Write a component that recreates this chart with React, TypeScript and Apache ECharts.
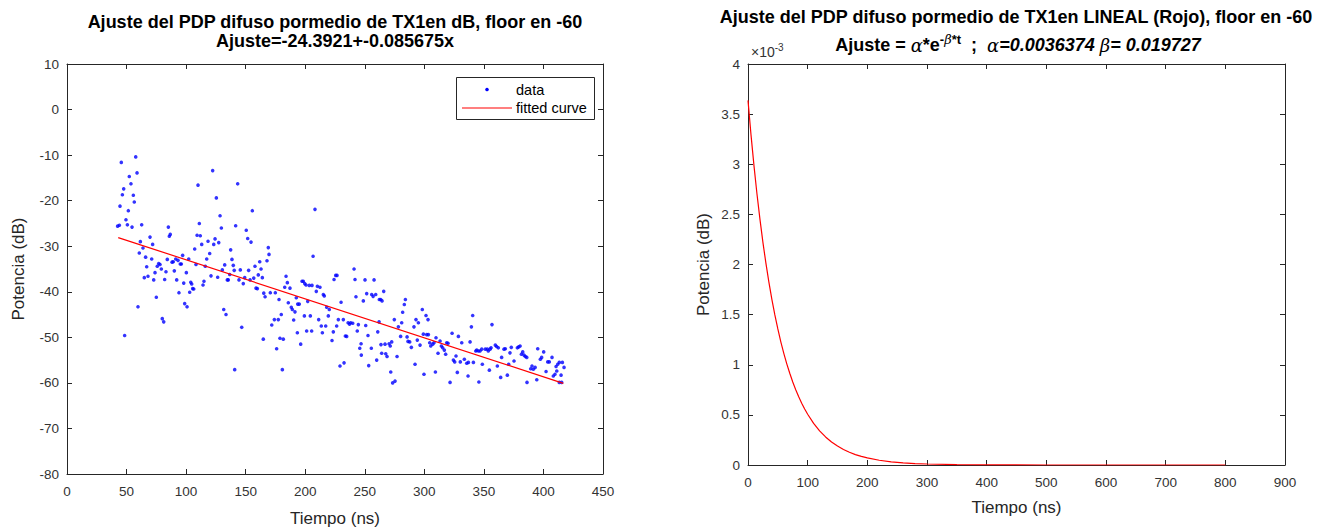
import React, { useEffect, useRef } from "react";
import * as echarts from "echarts";

// ---- Left panel: diffuse PDP samples (ns, dB) ----
const scatterTime = [
  42.5, 44, 44.5, 45.6, 46.5, 47.6, 48.4, 49.5, 50.7, 51.5, 52.3, 53.7, 54.6, 55.7, 56.5, 57.7, 58.8, 59.6,
  60.7, 61.6, 62.7, 63.8, 64.9, 66, 66.9, 68, 69.7, 71.1, 71.9, 72.8, 73.9, 75, 75.8, 77, 78.1, 79.2,
  80, 81.2, 82, 83.1, 84.2, 85.1, 85.9, 86.7, 88.2, 89.2, 90.1, 91.3, 92.1, 93.2, 94, 95.1, 96, 97.1,
  98, 98.8, 100.2, 100.8, 102.2, 103, 103.9, 104.7, 105.5, 106.4, 107.2, 108.3, 109.2, 110, 111.1, 111.9,
  113.1, 114.2, 115, 116.1, 117.3, 118.4, 119.8, 120.9, 122.3, 123.2, 124.3, 125.4, 126.5, 127.4, 128.5,
  129.6, 130.4, 131.6, 132.4, 133.5, 134.6, 135.4, 136.6, 137.4, 138.5, 139.6, 140.4, 140.8, 141.6, 143.3,
  144.4, 145.5, 146.7, 148, 149.2, 150.5, 151.7, 152.5, 153.7, 154.5, 155.6, 156.8, 157.8, 158.7, 159.8,
  160.6, 161.8, 162.9, 164, 164.8, 165.2, 166.3, 167.9, 169, 169.6, 170.7, 171.9, 174.1, 174.9, 176,
  177.4, 178, 178.8, 179.9, 180.8, 181.6, 182.8, 183.9, 185, 185.8, 187.2, 188.3, 189.2, 190.3, 191.4,
  192.5, 193.4, 193.7, 195, 196.2, 197.3, 198.4, 199.3, 199.6, 200.7, 201.2, 202.1, 203.4, 204.3, 205.4,
  205.7, 206.6, 208.2, 209.3, 210.2, 211.3, 212.4, 213.5, 214.4, 215.2, 216, 217.2, 218, 219.4, 220.2,
  222.5, 223.6, 224.2, 225.6, 226.4, 226.7, 227.8, 229.2, 230.1, 232, 232.6, 233.7, 234.8, 236, 237.2,
  238.2, 239.9, 241, 241.8, 242.6, 243.7, 244.6, 245.8, 246.9, 247.1, 248.8, 250.2, 250.8, 251.6, 252.7,
  253.3, 255.5, 255.8, 257, 257.8, 259.2, 260, 260.9, 262, 262.2, 263.4, 263.6, 264.2, 264.5, 265.9,
  267, 267.6, 268.7, 270.4, 271.4, 271.8, 272.6, 273.4, 274.8, 275.4, 277.1, 278.2, 280.1, 281, 281.8,
  283.2, 284.1, 285.5, 286.3, 287.7, 289.1, 291.3, 292.2, 293, 294.1, 295, 296.4, 298.3, 299.2, 299.7,
  301.4, 302, 303.1, 303.4, 304.5, 305.4, 307, 308.1, 309.3, 309.8, 311.5, 313.2, 314.3, 315.4, 316.8,
  317.9, 318.8, 319.9, 321.6, 323.3, 324.4, 325.5, 326.6, 327.7, 328.6, 330.2, 331.4, 333.6, 335.6, 336.7,
  337, 338.4, 339.5, 340.6, 341.2, 343.2, 344, 345.4, 345.8, 346.8, 348.2, 348.7, 351.2, 352.9, 353.7,
  354.6, 355.2, 356, 356.8, 359.6, 360.7, 361.3, 362.1, 364.1, 364.9, 366.9, 368, 369.7, 370.8, 371.9,
  373, 375.3, 378.1, 379.2, 380.4, 381.5, 382.6, 383.7, 384.8, 386, 386.2, 389.3, 390.4, 391.5, 393,
  394.4, 395.2, 397.4, 398.5, 400.2, 402.2, 403.6, 404.9, 407.2, 408.3, 409.7, 410.6, 411.2, 412, 413.3,
  413.3, 414.8, 415.3, 415.9, 417.3,
];
const scatterPower = [
  -25.6, -25.4, -21.2, -11.6, -18.7, -17.4, -49.6, -24.2, -25.3, -22.2, -14.7, -16.3, -25.8, -18.8, -20.3, -10.4, -13.9, -43.3,
  -31.5, -29.0, -25.3, -30.4, -36.9, -32.4, -34.5, -36.6, -28, -32.8, -29.6, -37.4, -35.8, -41.2, -34.4, -33.8, -34.0, -35,
  -45.9, -46.6, -37.3, -35.6, -32.9, -25.8, -27.8, -27.4, -33.5, -33.4, -35.4, -32.8, -37.4, -33.1, -40.2, -33.9, -33.9, -32.0,
  -38.1, -42.6, -35.8, -43.3, -32.8, -40.1, -37.9, -38.3, -39.3, -39.4, -30.6, -34.0, -27.6, -16.6, -25.0, -27.7,
  -29.6, -38.5, -37.7, -34.4, -32.8, -28.9, -31.6, -36.5, -13.4, -29.6, -28.4, -19.4, -36.8, -29.2, -23.3,
  -26, -35.2, -43.9, -34.1, -45.0, -37.4, -37.4, -36.2, -30.8, -32.9, -34.2, -35.3, -57.1, -25.5, -16.3,
  -37.4, -35.2, -47.8, -38.2, -36.9, -26.5, -28.3, -35.3, -37.4, -29.1, -22.2, -37, -34.4, -39.2, -39.3,
  -36.3, -33.4, -35, -36.9, -50.4, -40.3, -41.1, -33.2, -30.3, -31.8, -40.2, -47.3, -46.1, -40.2, -52.5,
  -46.1, -41.7, -50.2, -45, -57.1, -50.4, -39, -36.6, -38, -42.4, -39.2, -43.4, -43.9, -46.2, -44.4,
  -41.3, -49, -42.7, -42.7, -51.5, -37.7, -37.7, -45.3, -38.2, -38.5, -48.6, -42.1, -38.6, -45.3, -48.6,
  -38.6, -32.2, -21.9, -39.9, -38.8, -46.1, -39, -47.5, -49, -40.6, -40.9, -47.5, -43.4, -45.3, -43.9,
  -50.7, -48.8, -37.3, -36.4, -47.5, -36.4, -46.1, -56.3, -42.3, -46.1, -55.6, -49.7, -49.8, -46.8, -47.1,
  -46.8, -46.9, -35, -37.3, -41.1, -48.6, -47.2, -52.4, -51.4, -53.9, -42, -37.4, -47.4, -40.4, -49.6,
  -56.2, -52.4, -40.6, -41, -37.4, -40.6, -55, -48.8, -46.6, -41.7, -41.7, -51.6, -53.5, -42, -39.9,
  -51.5, -53.6, -54.2, -51.4, -51.9, -57.6, -51, -60, -46.1, -59.6, -54.2, -47.7, -49.8, -46.8, -44.5,
  -42.8, -41.7, -49.9, -50.9, -51, -52.2, -47.7, -55.9, -46.1, -50.6, -46.8, -51.7, -43.9, -49.3, -58.1,
  -45.2, -49.4, -46.1, -49.4, -51.2, -51.9, -51.5, -51.2, -57.6, -50.1, -53.5, -50.8, -51.9, -52.3, -52.8,
  -53.7, -51.2, -51.3, -59.9, -49.1, -55, -55.4, -54.1, -57.7, -49.8, -55.4, -51.2, -54.8, -55.7, -58.5,
  -55.5, -51, -47.7, -45.2, -55.5, -53, -52.8, -53, -59.8, -53, -52.6, -55.9, -52.6, -52.6, -53,
  -57.2, -52.6, -52.3, -47.2, -51.7, -52, -56.3, -52.3, -58.8, -54.4, -52.6, -52.5, -58.3, -55.9, -53.4,
  -52.2, -55.2, -52.3, -52.1, -51.9, -53.7, -53.2, -53.9, -54.2, -54.4, -59.9, -56.9, -56.3, -57, -56.6,
  -59.3, -52.5, -54.8, -54.4, -53.2, -57.5, -55.4, -55.4, -54.4, -58.5, -58.1, -56.4, -57.4, -55.9, -55.5,
  -59.9, -58.3, -59.9, -55.5, -56.6,
];
// fitted straight line end points (ns, dB)
const fitTime = [43, 416.7];
const fitPower = [-28.1, -60.1];

// ---- Right panel: fitted exponential (values in units of 1e-3) ----
const decayTime = [
  0, 5, 10, 15, 20, 25, 30, 35, 40, 45, 50, 55, 60, 65, 70, 75, 80, 85, 90, 95, 100,
  110, 120, 130, 140, 150, 160, 170, 180, 190, 200, 220, 240, 260, 280, 300, 350, 400, 500, 600, 700, 800,
];
const decayPower = [
  3.637, 3.296, 2.986, 2.706, 2.452, 2.221, 2.013, 1.824, 1.653, 1.497, 1.357, 1.229, 1.114, 1.009, 0.915, 0.828, 0.751, 0.68, 0.617, 0.558, 0.506,
  0.415, 0.341, 0.28, 0.23, 0.189, 0.155, 0.127, 0.104, 0.0857, 0.0704, 0.0474, 0.032, 0.0216, 0.0145, 0.0098, 0.0036, 0.0014, 0.0002, 0, 0, 0,
];

const leftXTicks = { min: 0, max: 450, interval: 50 };
const leftYTicks = { min: -80, max: 10, interval: 10 };
const rightXTicks = { min: 0, max: 900, interval: 100 };
const rightYTicks = { min: 0, max: 4, interval: 0.5 };

const FONT = "Liberation Sans, Arial, Helvetica, sans-serif";
const AX = "#262626";

function makeAxis(kind: "x" | "y", grid: number, t: any, name: string, gap: number, main: boolean, pos: string) {
  return {
    type: "value",
    gridIndex: grid,
    position: pos,
    min: t.min,
    max: t.max,
    interval: t.interval,
    name: main ? name : "",
    nameLocation: "middle",
    nameGap: gap,
    nameTextStyle: { color: AX, fontSize: 17, fontFamily: FONT },
    axisLine: { show: true, onZero: false, lineStyle: { color: AX, width: 1 } },
    axisTick: { show: true, inside: true, length: 5, lineStyle: { color: AX } },
    axisLabel: {
      show: main,
      color: "#333",
      fontSize: 13.5,
      fontFamily: FONT,
      margin: kind === "x" ? 10 : 8,
    },
    splitLine: { show: false },
  };
}

export default function App() {
  const ref = useRef<HTMLDivElement>(null);
  useEffect(() => {
    if (!ref.current) return;
    const chart = echarts.init(ref.current, null, { renderer: "svg" });
    const scatterData = scatterTime.map((t, i) => [t, scatterPower[i]]);
    const fitData = fitTime.map((t, i) => [t, fitPower[i]]);
    const decayData = decayTime.map((t, i) => [t, decayPower[i]]);

    const ltitle = { fontFamily: FONT, fontSize: 18, fontWeight: "bold", fill: "#000" } as any;
    chart.setOption({
      animation: false,
      backgroundColor: "#fff",
      grid: [
        { left: 67, top: 64, width: 536, height: 411 },
        { left: 748, top: 64, width: 537, height: 401 },
      ],
      xAxis: [
        makeAxis("x", 0, leftXTicks, "Tiempo (ns)", 36, true, "bottom"),
        makeAxis("x", 0, leftXTicks, "", 0, false, "top"),
        makeAxis("x", 1, rightXTicks, "Tiempo (ns)", 34, true, "bottom"),
        makeAxis("x", 1, rightXTicks, "", 0, false, "top"),
      ],
      yAxis: [
        makeAxis("y", 0, leftYTicks, "Potencia (dB)", 40, true, "left"),
        makeAxis("y", 0, leftYTicks, "", 0, false, "right"),
        makeAxis("y", 1, rightYTicks, "Potencia (dB)", 36, true, "left"),
        makeAxis("y", 1, rightYTicks, "", 0, false, "right"),
      ],
      series: [
        {
          type: "scatter",
          name: "data",
          xAxisIndex: 0,
          yAxisIndex: 0,
          data: scatterData,
          symbol: "circle",
          symbolSize: 3.6,
          itemStyle: { color: "#0000ff" },
          silent: true,
        },
        {
          type: "line",
          name: "fitted curve",
          xAxisIndex: 0,
          yAxisIndex: 0,
          data: fitData,
          showSymbol: false,
          lineStyle: { color: "#ff0000", width: 1.2 },
        },
        {
          type: "line",
          name: "exp",
          xAxisIndex: 2,
          yAxisIndex: 2,
          data: decayData,
          showSymbol: false,
          lineStyle: { color: "#ff0000", width: 1.2 },
        },
      ],
      graphic: [
        { type: "text", x: 335, y: 22, style: { ...ltitle, text: "Ajuste del PDP difuso pormedio de TX1en dB, floor en -60", align: "center", verticalAlign: "middle" } },
        { type: "text", x: 335, y: 41, style: { ...ltitle, text: "Ajuste=-24.3921+-0.085675x", align: "center", verticalAlign: "middle" } },
        { type: "text", x: 1016, y: 17, style: { ...ltitle, text: "Ajuste del PDP difuso pormedio de TX1en LINEAL (Rojo), floor en -60", align: "center", verticalAlign: "middle" } },
        {
          type: "text",
          x: 1018,
          y: 45,
          style: {
            text: "{b|Ajuste = }{g|α}{b|*e}{s|-}{sg|β}{s|*t}{b|  ;  }{g|α}{bi|=0.0036374 }{g|β}{bi|= 0.019727}",
            align: "center",
            verticalAlign: "middle",
            rich: {
              b: { fontFamily: FONT, fontSize: 18, fontWeight: "bold", fill: "#000" },
              bi: { fontFamily: FONT, fontSize: 18, fontWeight: "bold", fontStyle: "italic", fill: "#000" },
              g: { fontFamily: "DejaVu Serif, serif", fontSize: 18, fontStyle: "italic", fill: "#000" },
              s: { fontFamily: FONT, fontSize: 13, fontWeight: "bold", fill: "#000", padding: [0, 0, 12, 0] },
              sg: { fontFamily: "DejaVu Serif, serif", fontSize: 13, fontStyle: "italic", fill: "#000", padding: [0, 0, 12, 0] },
            },
          },
        },
        {
          type: "text",
          x: 751,
          y: 52,
          style: {
            text: "{a|×10}{s|-3}",
            verticalAlign: "middle",
            rich: {
              a: { fontFamily: FONT, fontSize: 14, fill: "#333" },
              s: { fontFamily: FONT, fontSize: 10, fill: "#333", padding: [0, 0, 9, 0] },
            },
          },
        },
        // legend (drawn as graphic)
        {
          type: "group",
          z: 100,
          children: [
            { type: "rect", shape: { x: 456.5, y: 77.5, width: 138, height: 42 }, style: { fill: "#fff", stroke: AX, lineWidth: 1 } },
            { type: "circle", shape: { cx: 487, cy: 89.5, r: 1.8 }, style: { fill: "#0000ff" } },
            { type: "line", shape: { x1: 462, y1: 108, x2: 512, y2: 108 }, style: { stroke: "#ff0000", lineWidth: 1.2 } },
            { type: "text", x: 516, y: 90, style: { text: "data", fontFamily: FONT, fontSize: 14.5, fill: "#000", verticalAlign: "middle" } },
            { type: "text", x: 516, y: 108, style: { text: "fitted curve", fontFamily: FONT, fontSize: 14.5, fill: "#000", verticalAlign: "middle" } },
          ],
        },
      ],
    });
    return () => chart.dispose();
  }, []);
  return <div ref={ref} style={{ position: "fixed", left: 0, top: 0, width: 1332, height: 532 }} />;
}
